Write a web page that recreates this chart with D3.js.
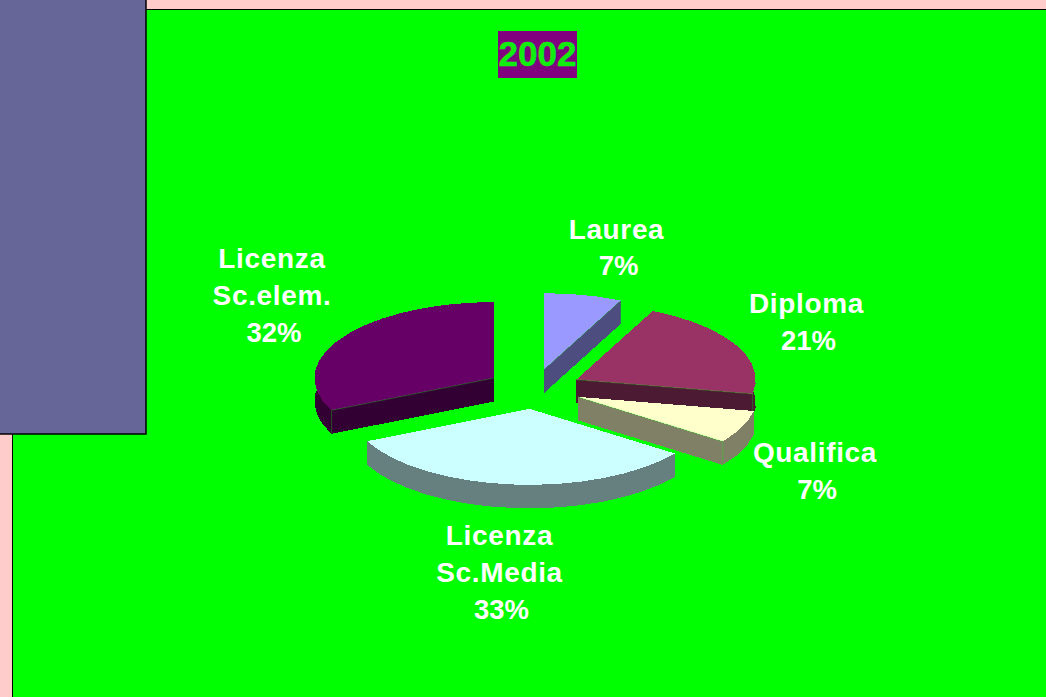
<!DOCTYPE html>
<html>
<meta http-equiv="content-type" content="text/html; charset=UTF8">
<style>
  html,body {margin:0;padding:0;background:#ffcccc;overflow:hidden;}
  svg {display:block;}
  text {font-family:"Liberation Sans",Arial,sans-serif;font-weight:bold;}
  .face {shape-rendering:crispEdges;}
</style>
<body>
<svg id="svg1" width="1046" height="697"></svg>

<script src="https://cdn.jsdelivr.net/npm/d3@7/dist/d3.min.js"></script>
<script>
var year="2002";
var categories=["Laurea","Diploma","Qualifica","Licenza Sc.Media","Licenza Sc.elem."];
var values=[7,21,7,33,32];
var labelLines=[["Laurea"],["Diploma"],["Qualifica"],["Licenza","Sc.Media"],["Licenza","Sc.elem."]];
var topColors=["#9999ff","#993366","#ffffcc","#ccffff","#660066"];
var sideColors=["#4d4d80","#4d1a33","#808066","#668080","#330033"];
var drawOrder=[0,4,1,2,3];

var cx=534,cy=388.8,rx=179.5,ry=76,explode=47.5,depth=23.5;
// centre of first text line of each label
var labelX=[616.5,806.5,815,499.5,272];
var labelY=[238.5,313,462,545,268];

var svg=d3.select("#svg1");

svg.append("rect").attr("x",12.5).attr("y",9.5).attr("width",1040).attr("height",700)
	.style("fill","#00ff00").style("stroke","#000").style("stroke-width",1);
svg.append("rect").attr("x",-5).attr("y",-5).attr("width",151).attr("height",439)
	.style("fill","#666699").style("stroke","#000").style("stroke-width",1.5);

var pie=d3.pie().sort(null).value(function(d){return d});
var arcs=pie(values);

// flatten the circle to an ellipse: unit circle -> screen offsets
var px=d3.scaleLinear().domain([-1,1]).range([-rx,rx]);
var py=d3.scaleLinear().domain([-1,1]).range([ry,-ry]);

var point=function(a,o,r,dy) {
	return [cx+o[0]+px(Math.sin(a)*r),cy+o[1]+py(Math.cos(a)*r)+dy];
}
var rimAngles=function(d) {
	var n=Math.max(2,Math.round((d.endAngle-d.startAngle)/0.13));
	return d3.range(n+1).map(function(i){return d.startAngle+(d.endAngle-d.startAngle)*i/n});
}
var line=d3.line();

var slices=svg.selectAll("g.slice").data(drawOrder).enter().append("g").attr("class","slice");

slices.each(function(idx) {
	var d=arcs[idx];
	var g=d3.select(this);
	var mid=(d.startAngle+d.endAngle)/2;
	var o=[px(Math.sin(mid))*explode/rx,py(Math.cos(mid))*explode/rx];
	var angles=rimAngles(d);
	var apex=point(0,o,0,0),apexB=point(0,o,0,depth);
	var rimT=angles.map(function(a){return point(a,o,1,0)});
	var rimB=angles.map(function(a){return point(a,o,1,depth)});
	var face=function(pts,color) {
		g.append("path").attr("class","face").attr("d",line(pts)+"Z").style("fill",color);
	}

	// body: every side face, same colour
	face([apex].concat(rimT),sideColors[idx]);
	face(rimT.concat(rimB.slice().reverse()),sideColors[idx]);
	face([apex,apexB,rimB[0],rimT[0]],sideColors[idx]);
	face([apex,apexB,rimB[rimB.length-1],rimT[rimT.length-1]],sideColors[idx]);
	face([apex].concat(rimT),topColors[idx]);

	// thin light edge on the radial faces turned to the viewer
	var edge=[];
	if (Math.sin(d.startAngle)<-0.01) edge.push([apex,rimT[0],rimB[0]]);
	if (Math.sin(d.endAngle)>0.01) edge.push([apex,rimT[rimT.length-1],rimB[rimB.length-1]]);
	edge.forEach(function(e) {
		g.append("path").attr("d",line(e)).style("fill","none")
			.style("stroke","#00ff00").style("stroke-width",0.5).style("stroke-opacity",0.6);
	});
});

// year box
svg.append("rect").attr("x",498).attr("y",31).attr("width",79).attr("height",47).style("fill","#800080");
svg.append("text").attr("x",537.5).attr("y",66).attr("text-anchor","middle")
	.style("font-size","35px").style("fill","#10ee10").style("stroke","#10ee10").style("stroke-width",0.5).text(year);

// labels
labelLines.forEach(function(lines,i) {
	var t=lines.concat([values[i]+"%"]);
	t.forEach(function(s,j) {
		var isPct=j==lines.length;
		svg.append("text").attr("x",labelX[i]+(isPct?2:0)).attr("y",labelY[i]+j*36.8)
			.attr("text-anchor","middle")
			.style("font-size",isPct?"27.5px":"28px").style("fill","#fff")
			.style("letter-spacing",isPct?"0":"0.65px")
			.text(s);
	});
});
</script>
</html>
